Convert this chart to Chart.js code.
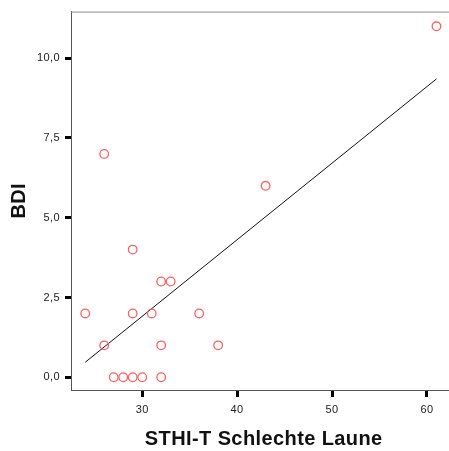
<!DOCTYPE html>
<html>
<head>
<meta charset="utf-8">
<script src="https://cdn.jsdelivr.net/npm/chart.js@4/dist/chart.umd.min.js"></script>
<style>
  html, body { margin: 0; padding: 0; background: #fff; overflow: hidden; }
  #wrap { width: 449px; height: 451px; overflow: hidden; }
</style>
</head>
<body>
<div id="wrap"><canvas id="scatterChart" width="462" height="451"></canvas></div>
<script>
// values
var sthiT = [24, 26, 26, 27, 28, 29, 30, 29, 29, 31, 32, 33, 32, 32, 36, 38, 43, 61];
var bdi   = [2, 1, 7, 0, 0, 0, 0, 4, 2, 2, 3, 3, 1, 0, 2, 1, 6, 11];

// fit line end points as drawn
var fitX = [24, 61];
var fitY = [0.47, 9.35];

var xTicks = [30, 40, 50, 60];
var yTicks = [0, 2.5, 5, 7.5, 10];

var xTitle = "STHI-T Schlechte Laune";
var yTitle = "BDI";

var points = sthiT.map(function(x, i) { return {x: x, y: bdi[i]}; });
var fitLine = fitX.map(function(x, i) { return {x: x, y: fitY[i]}; });

var fontFam = "'Liberation Sans', Arial, sans-serif";

// gray frame line on top of the plot, and a little letter spacing
var frameBits = {
  id: 'frameBits',
  beforeDraw: function(chart) {
    chart.ctx.letterSpacing = '0.4px';
  },
  afterDraw: function(chart) {
    var a = chart.chartArea, ctx = chart.ctx;
    ctx.save();
    ctx.strokeStyle = '#8c8c8c';
    ctx.lineWidth = 1;
    ctx.beginPath();
    ctx.moveTo(a.left, a.top + 0.5);
    ctx.lineTo(a.right, a.top + 0.5);
    ctx.stroke();
    ctx.restore();
  }
};

var ctxS = document.getElementById("scatterChart").getContext('2d');
var myChart = new Chart(ctxS, {
  type: 'scatter',
  data: {
    datasets: [{
      label: 'BDI',
      data: points,
      showLine: false,
      pointRadius: 4.3,
      pointBorderWidth: 1.3,
      pointBorderColor: 'rgb(255, 95, 95)',
      pointBackgroundColor: 'rgba(0,0,0,0)'
    },
    {
      label: 'fit',
      data: fitLine,
      showLine: true,
      pointRadius: 0,
      borderColor: '#111',
      borderWidth: 1
    }]
  },
  options: {
    responsive: false,
    animation: false,
    layout: { padding: { top: 11, left: 0, right: 0, bottom: 0 } },
    plugins: {
      legend: { display: false },
      tooltip: { enabled: false }
    },
    scales: {
      x: {
        type: 'linear',
        min: 22.5,
        max: 63.1,
        afterFit: function(scale) { scale.height = 61; },
        afterBuildTicks: function(scale) {
          scale.ticks = xTicks.map(function(v) { return {value: v}; });
        },
        border: { display: true, color: '#555', width: 1 },
        grid: { drawOnChartArea: false, drawTicks: true, tickLength: 7, tickWidth: 3, tickColor: '#000' },
        ticks: {
          padding: 6,
          color: '#222',
          font: { family: fontFam, size: 11 },
          callback: function(v) { return String(v); }
        },
        title: {
          display: true,
          text: xTitle,
          color: '#111',
          font: { family: fontFam, size: 20, weight: 'bold' },
          padding: { top: 0, bottom: 0 }
        }
      },
      y: {
        type: 'linear',
        min: -0.4,
        max: 11.46,
        afterFit: function(scale) { scale.width = 71; },
        afterBuildTicks: function(scale) {
          scale.ticks = yTicks.map(function(v) { return {value: v}; });
        },
        border: { display: true, color: '#555', width: 1 },
        grid: { drawOnChartArea: false, drawTicks: true, tickLength: 6, tickWidth: 3, tickColor: '#000' },
        ticks: {
          padding: 5,
          color: '#222',
          font: { family: fontFam, size: 11 },
          callback: function(v) { return v.toFixed(1).replace('.', ','); }
        },
        title: {
          display: true,
          text: yTitle,
          color: '#111',
          font: { family: fontFam, size: 20, weight: 'bold' },
          padding: { top: 7, bottom: 0 }
        }
      }
    }
  },
  plugins: [frameBits]
});
</script>
</body>
</html>
